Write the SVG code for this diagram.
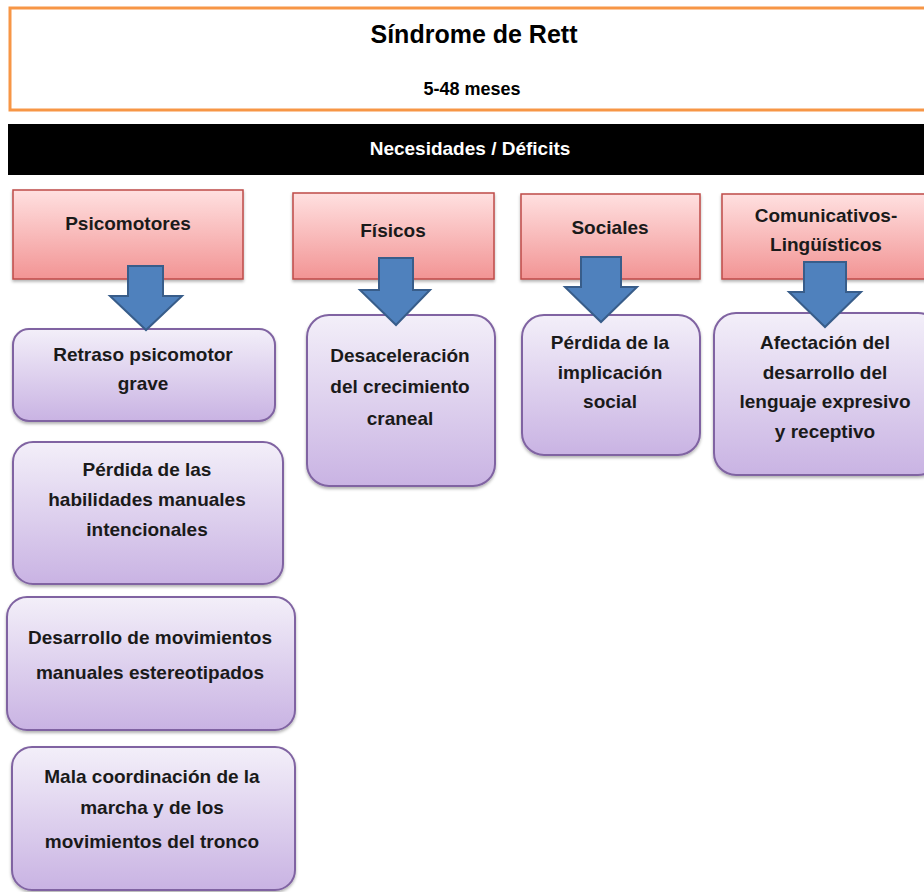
<svg xmlns="http://www.w3.org/2000/svg" width="924" height="892" viewBox="0 0 924 892">
<defs>
<linearGradient id="gRed" x1="0" y1="0" x2="0" y2="1">
<stop offset="0" stop-color="#FFE0E0"/>
<stop offset="1" stop-color="#F29494"/>
</linearGradient>
<linearGradient id="gPur" x1="0" y1="0" x2="0" y2="1">
<stop offset="0" stop-color="#F3EFF9"/>
<stop offset="1" stop-color="#C9B3E3"/>
</linearGradient>
<filter id="sh" x="-10%" y="-10%" width="120%" height="130%">
<feDropShadow dx="0" dy="2" stdDeviation="1.5" flood-color="#000" flood-opacity="0.3"/>
</filter>
</defs>
<style>
text{font-family:"Liberation Sans",Arial,sans-serif;font-weight:bold;text-anchor:middle;fill:#000}
.t{font-size:19px;fill:#1a1a1a}
.red{fill:url(#gRed);stroke:#BE4B48;stroke-width:1.5;filter:url(#sh)}
.pur{fill:url(#gPur);stroke:#8064A2;stroke-width:2;filter:url(#sh)}
.arr{fill:#4F81BD;stroke:#385D8A;stroke-width:2;stroke-linejoin:miter}
</style>
<rect width="924" height="892" fill="#fff"/>
<g id="title">
<rect x="10" y="8" width="930" height="102" fill="#fff" stroke="#F79646" stroke-width="3"/>
<text x="474" y="43" style="font-size:25px">Síndrome de Rett</text>
<text x="472" y="95" style="font-size:18px">5-48 meses</text>
</g>
<g id="bar">
<rect x="8" y="124" width="930" height="51" fill="#000"/>
<text x="470" y="155" style="font-size:19px;fill:#fff">Necesidades / Déficits</text>
</g>
<g id="psicomotores">
<rect class="red" x="13" y="190" width="230" height="89"/>
<text class="t" x="128" y="230">Psicomotores</text>
</g>
<g id="fisicos">
<rect class="red" x="293" y="193" width="201" height="86"/>
<text class="t" x="393" y="237">Físicos</text>
</g>
<g id="sociales">
<rect class="red" x="521" y="194" width="179" height="85"/>
<text class="t" x="610" y="234">Sociales</text>
</g>
<g id="comunicativos">
<rect class="red" x="722" y="194" width="220" height="85"/>
<text class="t" x="826" y="222">Comunicativos-</text>
<text class="t" x="826" y="251">Lingüísticos</text>
</g>
<g id="retraso">
<rect class="pur" x="13" y="329" width="262" height="92" rx="16"/>
<text class="t" x="143" y="361">Retraso psicomotor</text>
<text class="t" x="143" y="390">grave</text>
</g>
<g id="perdida-habilidades">
<rect class="pur" x="13" y="442" width="270" height="142" rx="20"/>
<text class="t" x="147" y="476">Pérdida de las</text>
<text class="t" x="147" y="506">habilidades manuales</text>
<text class="t" x="147" y="536">intencionales</text>
</g>
<g id="desarrollo">
<rect class="pur" x="7" y="597" width="288" height="133" rx="20"/>
<text class="t" x="150" y="644">Desarrollo de movimientos</text>
<text class="t" x="150" y="679">manuales estereotipados</text>
</g>
<g id="mala">
<rect class="pur" x="12" y="747" width="283" height="143" rx="20"/>
<text class="t" x="152" y="783">Mala coordinación de la</text>
<text class="t" x="152" y="814">marcha y de los</text>
<text class="t" x="152" y="848">movimientos del tronco</text>
</g>
<g id="desaceleracion">
<rect class="pur" x="307" y="315" width="188" height="171" rx="22"/>
<text class="t" x="400" y="362">Desaceleración</text>
<text class="t" x="400" y="393">del crecimiento</text>
<text class="t" x="400" y="425">craneal</text>
</g>
<g id="perdida-social">
<rect class="pur" x="522" y="315" width="178" height="140" rx="22"/>
<text class="t" x="610" y="349">Pérdida de la</text>
<text class="t" x="610" y="379">implicación</text>
<text class="t" x="610" y="408">social</text>
</g>
<g id="afectacion">
<rect class="pur" x="714" y="313" width="226" height="162" rx="22"/>
<text class="t" x="825" y="349">Afectación del</text>
<text class="t" x="825" y="379">desarrollo del</text>
<text class="t" x="825" y="408">lenguaje expresivo</text>
<text class="t" x="825" y="438">y receptivo</text>
</g>
<g id="connectors">
<polygon class="arr" points="128,266 163,266 163,296 182,296 146,330 110,296 128,296"/>
<polygon class="arr" points="379,258 413,258 413,290 430,290 396,325 360,290 379,290"/>
<polygon class="arr" points="581,257 621,257 621,287 637,287 601,322 565,287 581,287"/>
<polygon class="arr" points="804,262 846,262 846,292 861,292 825,327 789,292 804,292"/>
</g>
</svg>
